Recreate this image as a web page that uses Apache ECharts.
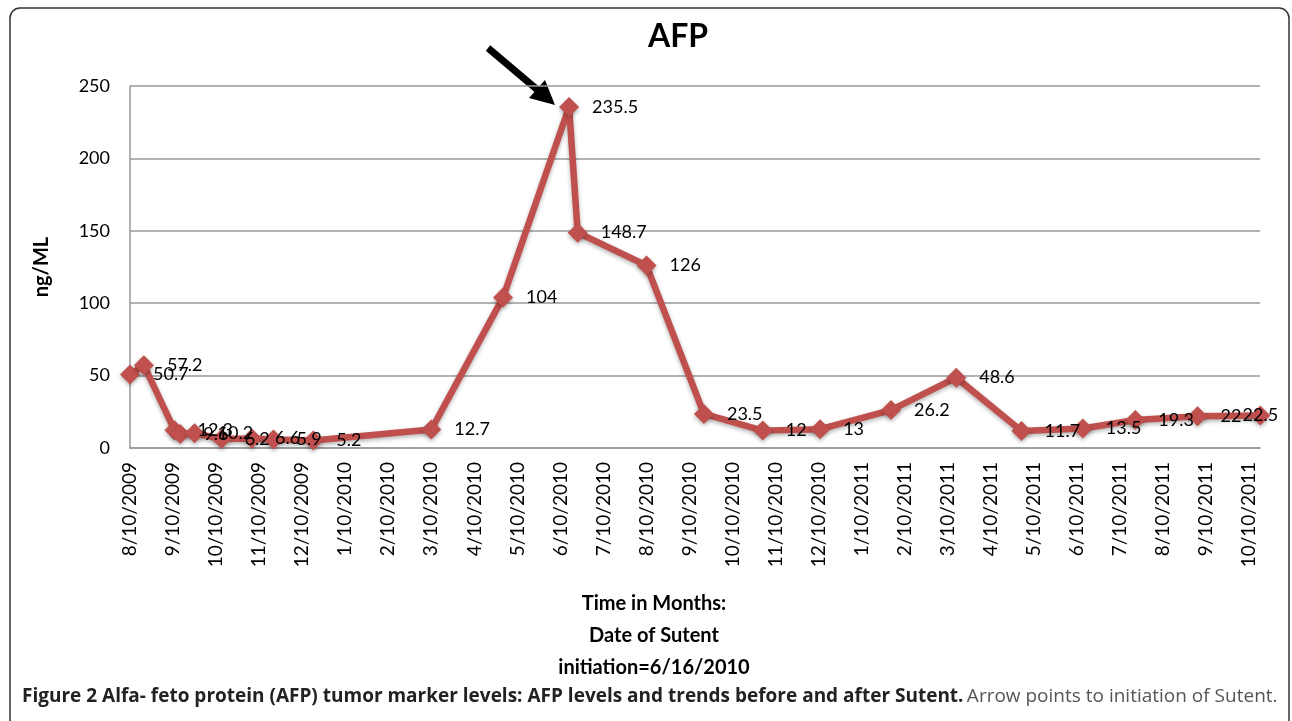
<!DOCTYPE html>
<html>
<head>
<meta charset="utf-8">
<title>AFP</title>
<script src="https://cdn.jsdelivr.net/npm/echarts@6/dist/echarts.min.js"></script>
<style>
  html, body { margin: 0; padding: 0; background: #fff; }
  #main { width: 1292px; height: 721px; }
</style>
</head>
<body>
<div id="main"></div>
<script>
// sample dates and AFP values (ng/ML)
var sampleDates = ['2009-08-10', '2009-08-20', '2009-09-11', '2009-09-15', '2009-09-25',
  '2009-10-14', '2009-11-05', '2009-11-20', '2009-12-18', '2010-03-10', '2010-04-30',
  '2010-06-16', '2010-06-22', '2010-08-10', '2010-09-20', '2010-11-01', '2010-12-11',
  '2011-02-01', '2011-03-16', '2011-05-01', '2011-06-14', '2011-07-21', '2011-09-04',
  '2011-10-18'];
var afpValues = [50.7, 57.2, 12.3, 9.6, 10.2, 6.2, 6.6, 5.9, 5.2, 12.7, 104,
  235.5, 148.7, 126, 23.5, 12, 13, 26.2, 48.6, 11.7, 13.5, 19.3, 22, 22.5];
// monthly tick labels on the x axis
var monthLabels = ['8/10/2009', '9/10/2009', '10/10/2009', '11/10/2009', '12/10/2009',
  '1/10/2010', '2/10/2010', '3/10/2010', '4/10/2010', '5/10/2010', '6/10/2010',
  '7/10/2010', '8/10/2010', '9/10/2010', '10/10/2010', '11/10/2010', '12/10/2010',
  '1/10/2011', '2/10/2011', '3/10/2011', '4/10/2011', '5/10/2011', '6/10/2011',
  '7/10/2011', '8/10/2011', '9/10/2011', '10/10/2011'];
var yTicks = [0, 50, 100, 150, 200, 250];

var FONT = 'Lato';
var RED = '#c0504d';

// date -> months after 8/10/2009 (the 10th of each month is a whole number)
function monthPos(s) {
  var p = s.split('-'), y = +p[0], m = +p[1], d = +p[2];
  var days = new Date(y, m, 0).getDate();
  return (y - 2009) * 12 + (m - 8) + (d - 10) / days;
}

var seriesData = [];
for (var i = 0; i < afpValues.length; i++) {
  var item = { value: [monthPos(sampleDates[i]), afpValues[i]] };
  if (i == afpValues.length - 1) {
    item.label = { position: 'inside', distance: 0 };
  }
  seriesData.push(item);
}

var chart = echarts.init(document.getElementById('main'));
var option = {
  animation: false,
  backgroundColor: '#fff',
  title: {
    text: 'AFP',
    left: 673,
    top: 16,
    textAlign: 'center',
    textStyle: { fontFamily: FONT, fontWeight: 'bold', fontSize: 32, color: '#000' }
  },
  grid: { left: 130, right: 32, top: 86, bottom: 273 },
  xAxis: {
    type: 'value',
    min: 0,
    max: 26.25,
    interval: 1,
    name: 'Time in Months:\nDate of Sutent\ninitiation=6/16/2010',
    nameLocation: 'middle',
    nameGap: 140,
    nameTextStyle: {
      fontFamily: FONT, fontWeight: 'bold', fontSize: 20, color: '#000',
      lineHeight: 32, padding: [0, 82, 0, 0]
    },
    axisLine: { show: true, lineStyle: { color: '#999', width: 1.5 } },
    axisTick: { show: false },
    splitLine: { show: false },
    axisLabel: {
      rotate: 90,
      margin: 14,
      fontFamily: FONT,
      fontSize: 19,
      color: '#000',
      showMaxLabel: false,
      formatter: function (v) {
        if (Math.abs(v - Math.round(v)) > 1e-6) return '';
        return monthLabels[Math.round(v)] || '';
      }
    }
  },
  yAxis: {
    type: 'value',
    min: yTicks[0],
    max: yTicks[yTicks.length - 1],
    interval: 50,
    name: 'ng/ML',
    nameLocation: 'middle',
    nameGap: 78,
    nameRotate: 90,
    nameTextStyle: { fontFamily: FONT, fontWeight: 'bold', fontSize: 20, color: '#000' },
    axisLine: { show: true, lineStyle: { color: '#999', width: 1.5 } },
    axisTick: { show: false },
    splitLine: { show: true, lineStyle: { color: '#999', width: 1.5 } },
    axisLabel: { margin: 20, fontFamily: FONT, fontSize: 18, color: '#000' }
  },
  series: [{
    type: 'line',
    data: seriesData,
    symbol: 'diamond',
    symbolSize: 20,
    clip: false,
    lineStyle: {
      color: RED, width: 6.5,
      shadowColor: 'rgba(0,0,0,0.3)', shadowBlur: 4, shadowOffsetY: 2
    },
    itemStyle: {
      color: RED,
      shadowColor: 'rgba(0,0,0,0.3)', shadowBlur: 4, shadowOffsetY: 2
    },
    label: {
      show: true,
      position: 'right',
      distance: 13,
      fontFamily: FONT,
      fontSize: 18,
      color: '#000',
      formatter: function (p) { return p.value[1]; }
    },
    z: 3
  }],
  graphic: [
    {
      // frame around chart and caption
      type: 'rect',
      shape: { x: 10, y: 8, width: 1279, height: 740, r: 10 },
      style: { fill: null, stroke: '#333', lineWidth: 1.5 },
      silent: true
    },
    {
      // arrow pointing at the start of Sutent
      type: 'group',
      silent: true,
      children: [
        {
          type: 'line',
          shape: { x1: 488, y1: 48, x2: 540, y2: 92 },
          style: { stroke: '#000', lineWidth: 7 }
        },
        {
          type: 'polygon',
          shape: { points: [[555, 105], [529, 98], [545, 80]] },
          style: { fill: '#000' }
        }
      ]
    },
    {
      type: 'text',
      left: 22,
      top: 687,
      style: {
        text: '{b|Figure 2 Alfa- feto protein (AFP) tumor marker levels: AFP levels and trends before and after Sutent.} {n|Arrow points to initiation of Sutent.}',
        rich: {
          b: { fontFamily: 'Open Sans', fontWeight: 'bold', fontSize: 19, fill: '#222' },
          n: { fontFamily: 'Open Sans', fontSize: 19, fill: '#555' }
        }
      }
    }
  ]
};
chart.setOption(option);
</script>
</body>
</html>
